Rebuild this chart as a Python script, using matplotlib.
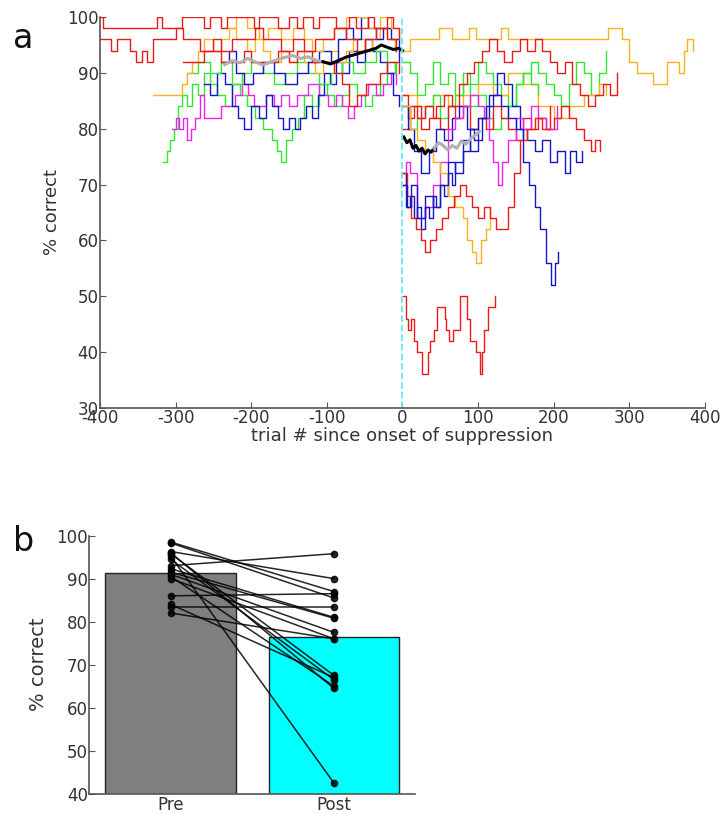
import matplotlib
matplotlib.use("Agg")
from matplotlib import pyplot as plt

RED = "#ee1a1a"
ORANGE = "#f7b21e"
GREEN = "#2ee82e"
BLUE = "#1515c8"
MAGENTA = "#ee22ee"

# ---- panel a: running % correct per session (step traces) ----
red_pre1_x = [-400, -396, -340, -325, -318, -300, -292, -262, -255, -240, -232, -210, -196, -190, -178, -165,
              -150, -140, -132, -118, -110, -95, -88, -70, -62, -45, -38, -20, -12, -4]
red_pre1_y = [100, 98, 98, 100, 98, 98, 100, 98, 100, 98, 100, 100, 98, 100, 100, 98,
              100, 98, 100, 98, 100, 100, 98, 100, 98, 100, 98, 100, 98, 96]
red_pre2_x = [-400, -385, -378, -360, -352, -345, -338, -330, -318, -300, -290, -275, -268, -250, -240, -225,
              -210, -195, -185, -170, -160, -145, -130, -115, -100, -90, -75, -60, -50, -35, -20, -8]
red_pre2_y = [96, 94, 96, 94, 92, 94, 92, 96, 96, 98, 96, 96, 94, 96, 94, 96,
              96, 98, 96, 96, 94, 96, 94, 96, 96, 98, 96, 94, 96, 98, 96, 94]
red_pre3_x = [-290, -270, -262, -240, -230, -210, -200, -180, -165, -150, -140, -120, -105, -90, -80, -70,
              -60, -48, -30, -20, -5]
red_pre3_y = [92, 92, 94, 92, 92, 94, 92, 92, 94, 92, 94, 92, 92, 90, 88, 84,
              86, 88, 90, 92, 90]
orange_pre1_x = [-330, -300, -292, -285, -278, -270, -262, -250, -240, -230, -220, -205, -195, -185, -175,
                 -160, -150, -140, -130, -115, -105, -95, -85, -75, -65, -50, -40, -30, -20, -10]
orange_pre1_y = [86, 86, 88, 90, 92, 94, 96, 94, 96, 98, 96, 94, 96, 94, 92,
                 94, 92, 94, 92, 90, 92, 94, 92, 94, 96, 94, 96, 98, 96, 94]
orange_pre2_x = [-232, -220, -205, -190, -178, -160, -145, -130, -120, -105, -90, -75, -60, -45, -30, -15, -5]
orange_pre2_y = [98, 100, 98, 96, 98, 96, 98, 96, 94, 96, 98, 100, 100, 98, 100, 98, 96]
green_pre1_x = [-317, -312, -307, -302, -297, -292, -285, -278, -270, -262, -255, -245, -235, -225, -215,
                -205, -195, -185, -178, -172, -166, -160, -154, -146, -138, -130, -120, -110, -100, -90,
                -80, -70, -60, -50, -40, -30, -20, -10]
green_pre1_y = [74, 76, 78, 80, 84, 86, 84, 88, 86, 90, 88, 86, 84, 88, 86,
                84, 82, 80, 80, 78, 76, 74, 78, 80, 82, 86, 84, 88, 86, 84,
                86, 88, 86, 84, 86, 88, 90, 92]
green_pre2_x = [-285, -270, -255, -240, -225, -212, -200, -185, -170, -155, -140, -125, -110, -95, -80, -65,
                -50, -35, -20, -8]
green_pre2_y = [90, 92, 90, 92, 88, 90, 92, 90, 88, 90, 92, 90, 88, 90, 92, 90,
                92, 94, 92, 90]
magenta_pre_x = [-305, -300, -295, -290, -285, -280, -275, -268, -262, -250, -240, -232, -222, -212, -204,
                 -196, -188, -180, -170, -160, -150, -140, -125, -110, -98, -88, -80, -72, -64, -55, -45,
                 -35, -25, -15, -8]
magenta_pre_y = [80, 82, 80, 82, 78, 80, 82, 86, 82, 82, 84, 84, 86, 88, 86,
                 84, 84, 86, 84, 86, 84, 86, 88, 86, 84, 86, 84, 82, 84, 86, 88,
                 86, 88, 90, 88]
blue_pre1_x = [-262, -255, -245, -235, -225, -218, -210, -200, -190, -180, -172, -165, -158, -150, -142,
               -135, -128, -120, -112, -104, -96, -88, -80, -70, -60, -50, -40, -30, -20, -12, -5]
blue_pre1_y = [88, 86, 90, 88, 84, 82, 80, 84, 82, 86, 84, 82, 80, 82, 80,
               82, 84, 82, 86, 90, 88, 92, 90, 94, 92, 96, 94, 92, 90, 86, 84]
blue_pre2_x = [-240, -230, -220, -210, -198, -185, -170, -155, -140, -125, -110, -95, -85, -75, -65, -55,
               -45, -35, -25, -15, -5]
blue_pre2_y = [92, 94, 90, 88, 90, 92, 90, 88, 90, 92, 94, 92, 96, 98, 96, 100,
               98, 96, 98, 96, 92]

orange_post1_x = [0, 10, 42, 48, 65, 88, 98, 130, 140, 237, 272, 290, 300, 310, 332, 350, 366, 373, 376, 385]
orange_post1_y = [94, 96, 96, 98, 96, 98, 96, 98, 96, 96, 98, 96, 92, 90, 88, 92, 90, 94, 96, 94]
orange_post2_x = [0, 20, 40, 60, 80, 100, 120, 140, 160, 180, 200, 220, 240, 260, 270]
orange_post2_y = [86, 84, 86, 84, 86, 88, 86, 90, 88, 84, 82, 84, 86, 88, 86]
orange_post3_x = [0, 10, 20, 30, 40, 50, 60, 70, 80, 86, 92, 98, 104, 110, 116]
orange_post3_y = [84, 80, 78, 76, 74, 72, 68, 66, 64, 60, 58, 56, 60, 62, 66]
red_post1_x = [0, 8, 16, 25, 35, 45, 55, 65, 75, 85, 95, 105, 115, 125, 135, 145, 155, 165, 175, 185,
               195, 205, 215, 225, 235, 245, 255, 265, 275, 284]
red_post1_y = [86, 82, 84, 80, 82, 84, 86, 84, 88, 90, 92, 94, 96, 94, 92, 94, 96, 94, 96, 94,
               92, 90, 92, 88, 86, 84, 86, 88, 86, 90]
red_post2_x = [0, 10, 20, 30, 40, 50, 60, 70, 80, 90, 100, 110, 120, 130, 140, 150, 160, 170, 180, 190,
               200, 210, 220, 230, 240, 250, 255, 262]
red_post2_y = [80, 84, 82, 84, 82, 80, 84, 82, 84, 80, 82, 80, 84, 82, 80, 78, 82, 80, 82, 80,
               82, 84, 82, 80, 78, 76, 78, 76]
red_post3_x = [0, 6, 12, 18, 24, 30, 36, 44, 52, 60, 68, 76, 84, 92, 100, 108, 116, 124, 132, 140, 148,
               156, 165, 175, 185, 195]
red_post3_y = [72, 68, 64, 62, 60, 58, 60, 62, 64, 66, 68, 70, 68, 66, 64, 66, 64, 62, 62, 66, 72,
               78, 80, 82, 80, 84]
red_post4_x = [1, 5, 8, 12, 16, 20, 26, 32, 34, 36, 40, 42, 46, 56, 58, 62, 67, 72, 76, 80, 85, 89, 93,
               97, 103, 105, 108, 113, 120, 122]
red_post4_y = [50, 46, 44, 46, 42, 40, 36, 36, 40, 42, 42, 44, 48, 46, 44, 42, 44, 44, 50, 50, 46, 42, 42,
               40, 36, 40, 44, 48, 48, 50]
green_post1_x = [0, 10, 20, 30, 40, 50, 60, 70, 80, 90, 100, 110, 120, 130, 140, 150, 160, 170, 180, 190,
                 200, 210, 220, 230, 240, 250, 260, 270]
green_post1_y = [92, 90, 86, 88, 92, 88, 90, 86, 90, 88, 92, 90, 88, 86, 84, 88, 90, 92, 90, 88,
                 86, 84, 88, 92, 90, 86, 90, 94]
green_post2_x = [0, 10, 20, 30, 40, 50, 60, 70, 80, 90, 100, 110, 120, 130, 140, 150, 160, 170, 180]
green_post2_y = [84, 80, 82, 84, 86, 82, 84, 86, 88, 84, 86, 82, 80, 82, 84, 88, 90, 88, 86]
blue_post1_x = [0, 8, 15, 25, 35, 45, 55, 65, 75, 85, 95, 105, 115, 125, 135, 145, 155, 165, 175, 185,
                195, 205, 215, 222, 230, 237]
blue_post1_y = [84, 80, 76, 72, 76, 80, 78, 82, 84, 80, 78, 82, 86, 90, 88, 84, 80, 78, 76, 78,
                74, 76, 72, 76, 74, 76]
blue_post2_x = [0, 6, 12, 20, 30, 40, 50, 60, 70, 80, 90, 100, 110, 120, 130, 140, 150, 160, 168, 175,
                182, 190, 196, 202, 206]
blue_post2_y = [70, 66, 70, 64, 68, 66, 70, 74, 72, 76, 80, 82, 84, 86, 84, 82, 80, 74, 70, 66,
                62, 56, 52, 56, 58]
blue_post3_x = [0, 5, 10, 15, 20, 25, 30, 35, 40, 45, 50, 55, 60, 65, 70, 80, 90, 100]
blue_post3_y = [72, 66, 68, 64, 66, 62, 66, 64, 68, 66, 70, 68, 72, 70, 74, 78, 76, 80]
magenta_post_x = [0, 5, 10, 20, 30, 40, 50, 60, 70, 80, 90, 100, 108, 115, 120, 126, 132, 140, 150, 160,
                  170, 180, 190, 205]
magenta_post_y = [70, 74, 72, 64, 66, 70, 74, 80, 82, 84, 86, 84, 82, 78, 74, 70, 74, 78, 82, 80,
                  84, 82, 80, 84]

# group averages
gray_pre_x = [-235, -225, -215, -205, -195, -185, -175, -165, -155, -145, -135, -125, -115, -105]
gray_pre_y = [91.5, 92.2, 91.8, 92.6, 92.0, 91.4, 91.9, 92.4, 92.8, 93.1, 92.6, 92.9, 92.3, 92.0]
black_pre_x = [-105, -95, -85, -75, -65, -55, -45, -35, -28, -20, -12, -5, 0]
black_pre_y = [92.0, 91.6, 92.2, 92.8, 93.2, 93.6, 94.0, 94.4, 95.0, 94.6, 94.2, 94.4, 94.0]
black_post_x = [2, 6, 10, 14, 18, 22, 26, 30, 34, 38, 42]
black_post_y = [78.5, 77.5, 78, 76.5, 77, 76, 76.5, 75.5, 76.2, 75.8, 76.5]
gray_post_x = [42, 48, 54, 60, 66, 72, 78, 84, 90, 96, 102]
gray_post_y = [76.5, 77.5, 77, 76.2, 77, 76.5, 77.8, 77.2, 78.2, 78.8, 79.5]

# ---- panel b: mean % correct before / after ----
conditions = ["Pre", "Post"]
mean_correct = [91.2, 76.5]
pre_subj = [98.5, 98.3, 96.3, 95.8, 95.2, 94.5, 93.0, 92.3, 91.5, 91.0, 90.5, 90.0, 86.0, 84.0, 83.3, 82.0, 96.0]
post_subj = [87.0, 85.5, 90.0, 67.5, 42.5, 66.5, 95.8, 81.0, 80.8, 77.5, 65.0, 76.0, 86.5, 67.0, 83.3, 76.0, 64.5]

traces = [
    (green_pre1_x, green_pre1_y, GREEN), (magenta_pre_x, magenta_pre_y, MAGENTA),
    (blue_pre1_x, blue_pre1_y, BLUE), (green_pre2_x, green_pre2_y, GREEN),
    (orange_pre1_x, orange_pre1_y, ORANGE), (blue_pre2_x, blue_pre2_y, BLUE),
    (orange_pre2_x, orange_pre2_y, ORANGE), (red_pre3_x, red_pre3_y, RED),
    (red_pre2_x, red_pre2_y, RED), (red_pre1_x, red_pre1_y, RED),
    (orange_post1_x, orange_post1_y, ORANGE), (green_post1_x, green_post1_y, GREEN),
    (orange_post2_x, orange_post2_y, ORANGE), (green_post2_x, green_post2_y, GREEN),
    (red_post1_x, red_post1_y, RED), (red_post2_x, red_post2_y, RED),
    (blue_post1_x, blue_post1_y, BLUE), (magenta_post_x, magenta_post_y, MAGENTA),
    (blue_post3_x, blue_post3_y, BLUE), (orange_post3_x, orange_post3_y, ORANGE),
    (red_post3_x, red_post3_y, RED), (blue_post2_x, blue_post2_y, BLUE),
    (red_post4_x, red_post4_y, RED),
]

TXT = "#333333"
plt.rcParams["font.family"] = "DejaVu Sans"
plt.rcParams["axes.unicode_minus"] = False
fig = plt.figure(figsize=(7.25, 8.14), dpi=100)

ax = fig.add_axes([0.138, 0.499, 0.834, 0.48])
for xs, ys, c in traces:
    ax.plot(xs, ys, drawstyle="steps-post", color=c, lw=1.0)
ax.plot(gray_pre_x, gray_pre_y, color="#b0b0b0", lw=2.2)
ax.plot(black_pre_x, black_pre_y, color="black", lw=2.2)
ax.plot(black_post_x, black_post_y, color="black", lw=2.2)
ax.plot(gray_post_x, gray_post_y, color="#b0b0b0", lw=2.2)
ax.axvline(0, color="#66e8f0", ls="--", lw=1.3)
ax.set_xlim(-400, 400)
ax.set_ylim(30, 100)
ax.set_xticks(range(-400, 401, 100))
ax.set_yticks(range(30, 101, 10))
ax.set_xlabel("trial # since onset of suppression", fontsize=13, color=TXT, labelpad=0)
ax.set_ylabel("% correct", fontsize=13, color=TXT, labelpad=4)
fig.text(0.018, 0.941, "a", fontsize=24, color="#111111")

axb = fig.add_axes([0.123, 0.025, 0.45, 0.317])
axb.bar([0, 1], mean_correct, width=0.8, color=["#7f7f7f", "#00ffff"], edgecolor="#222222", lw=1.0)
for p, q in zip(pre_subj, post_subj):
    axb.plot([0, 1], [p, q], color="black", lw=1.1, marker="o", ms=4.5, alpha=0.85)
axb.set_xlim(-0.5, 1.5)
axb.set_ylim(40, 100)
axb.set_xticks([0, 1])
axb.set_xticklabels(conditions)
axb.set_yticks(range(40, 101, 10))
axb.set_ylabel("% correct", fontsize=14, color=TXT, labelpad=6)
fig.text(0.018, 0.323, "b", fontsize=24, color="#111111")

for a in (ax, axb):
    for s in ("top", "right"):
        a.spines[s].set_visible(False)
    for s in ("left", "bottom"):
        a.spines[s].set_color("#555555")
        a.spines[s].set_linewidth(1.2)
    a.tick_params(direction="in", labelsize=12, labelcolor=TXT, color="#555555", pad=1, length=4)
axb.tick_params(axis="x", length=0, pad=2)

fig.savefig("out.png", dpi=100)
